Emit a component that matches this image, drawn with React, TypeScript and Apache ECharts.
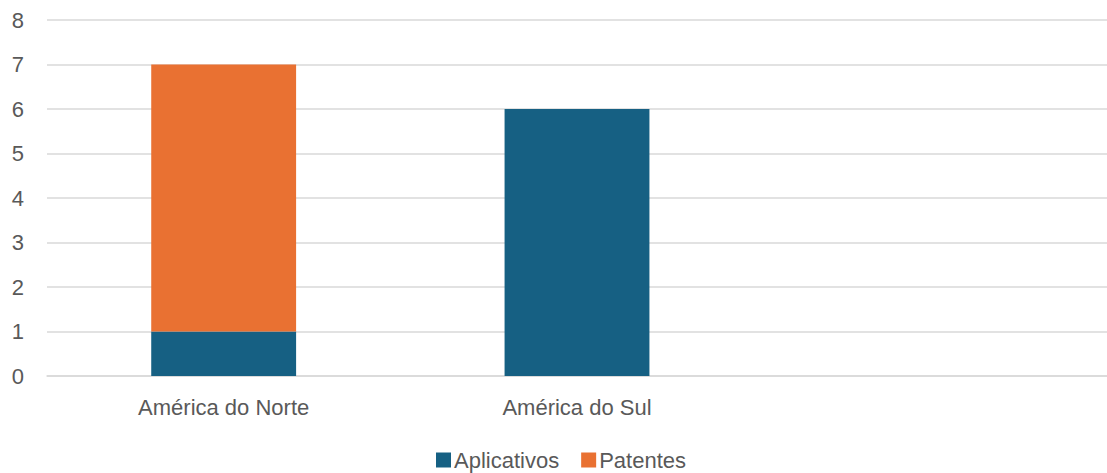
import React, { useEffect, useRef } from "react";
import * as echarts from "echarts";

const categories = ["América do Norte", "América do Sul", ""];
const aplicativos = [1, 6, null];
const patentes = [6, null, null];
const seriesNames = ["Aplicativos", "Patentes"];

export default function App() {
  const ref = useRef<HTMLDivElement>(null);
  useEffect(() => {
    document.body.style.margin = "0";
    const chart = echarts.init(ref.current!, null, { renderer: "svg" });
    const font = "'Liberation Sans', Arial, sans-serif";
    chart.setOption({
      animation: false,
      textStyle: { fontFamily: font },
      grid: { left: 47, right: -5, top: 20, bottom: 97, containLabel: false },
      legend: {
        data: seriesNames,
        top: 449,
        left: 436,
        padding: 0,
        itemWidth: 15,
        itemHeight: 15,
        itemGap: 22,
        icon: "rect",
        textStyle: { fontSize: 22, color: "#595959", fontFamily: font, padding: [0, 0, 0, -2] },
      },
      xAxis: {
        type: "category",
        data: categories,
        axisLine: { lineStyle: { color: "#D9D9D9", width: 1.5 } },
        axisTick: { show: false },
        axisLabel: { fontSize: 22, color: "#595959", margin: 20, fontFamily: font },
      },
      yAxis: {
        type: "value",
        min: 0,
        max: 8,
        interval: 1,
        splitLine: { lineStyle: { color: "#D9D9D9", width: 1.5 } },
        axisLabel: { fontSize: 22, color: "#595959", margin: 23, fontFamily: font },
      },
      series: [
        {
          name: seriesNames[0],
          type: "bar",
          stack: "total",
          data: aplicativos,
          barWidth: "41%",
          itemStyle: { color: "#166083" },
        },
        {
          name: seriesNames[1],
          type: "bar",
          stack: "total",
          data: patentes,
          barWidth: "41%",
          itemStyle: { color: "#E97132" },
        },
      ],
    });
    return () => chart.dispose();
  }, []);
  return <div ref={ref} style={{ width: 1107, height: 473 }} />;
}
